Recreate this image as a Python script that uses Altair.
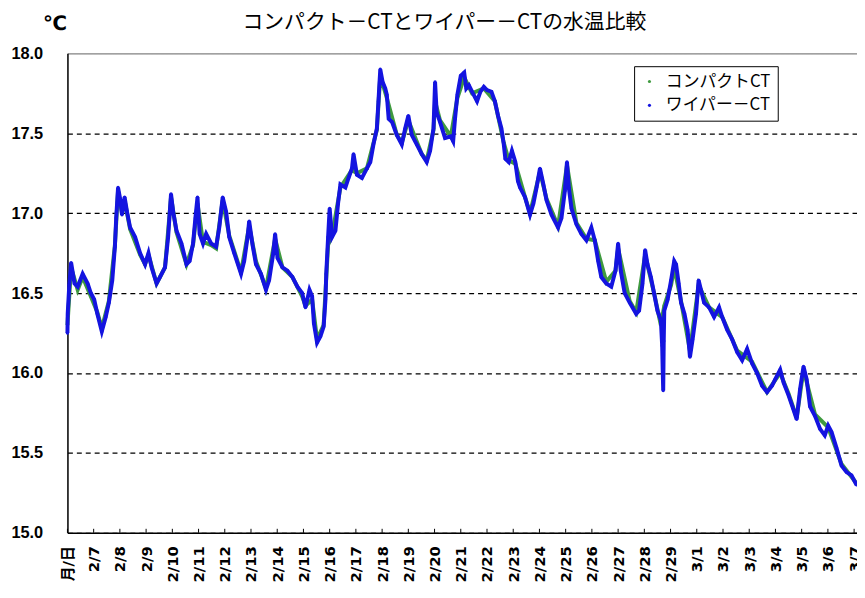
import json
import altair as alt
import pandas as pd

# ---- data (day index: 0 = "月/日", 1 = 2/7 ... 30 = 3/7) ----
wiper_day = [
    0.00, 0.01, 0.07, 0.14, 0.27, 0.39, 0.58, 0.77, 0.89, 1.02, 1.14, 1.31, 1.46, 1.58, 1.71, 1.81,
    1.86, 1.93, 2.02, 2.08, 2.18, 2.27, 2.39, 2.58, 2.77, 2.96, 3.09, 3.21, 3.40, 3.53, 3.72, 3.84,
    3.95, 4.03, 4.16, 4.35, 4.54, 4.66, 4.79, 4.88, 4.96, 5.04, 5.17, 5.29, 5.48, 5.67, 5.79, 5.92,
    6.05, 6.17, 6.36, 6.62, 6.74, 6.87, 6.93, 7.06, 7.19, 7.38, 7.57, 7.69, 7.85, 7.92, 8.01, 8.20,
    8.39, 8.58, 8.77, 8.95, 9.08, 9.23, 9.33, 9.40, 9.52, 9.65, 9.77, 9.84, 9.87, 9.94, 10.00, 10.09,
    10.22, 10.32, 10.41, 10.60, 10.72, 10.85, 10.91, 11.04, 11.23, 11.42, 11.55, 11.67, 11.80, 11.86,
    11.93, 12.02, 12.12, 12.18, 12.25, 12.38, 12.56, 12.75, 12.88, 13.00, 13.13, 13.32, 13.51, 13.70,
    13.83, 13.96, 14.02, 14.08, 14.21, 14.40, 14.62, 14.71, 14.78, 14.87, 15.00, 15.13, 15.21, 15.31,
    15.43, 15.62, 15.75, 15.88, 16.00, 16.17, 16.30, 16.42, 16.55, 16.64, 16.70, 16.83, 16.95, 17.08,
    17.18, 17.26, 17.45, 17.64, 17.77, 17.89, 18.02, 18.15, 18.27, 18.46, 18.71, 18.84, 18.97, 19.05,
    19.12, 19.22, 19.41, 19.60, 19.79, 19.98, 20.11, 20.24, 20.36, 20.55, 20.74, 20.90, 21.00, 21.10,
    21.25, 21.44, 21.69, 21.80, 21.93, 22.03, 22.12, 22.25, 22.37, 22.50, 22.63, 22.68, 22.70, 22.72,
    22.74, 22.76, 22.89, 23.02, 23.14, 23.21, 23.31, 23.40, 23.53, 23.65, 23.74, 23.84, 23.97, 24.07,
    24.16, 24.28, 24.47, 24.66, 24.85, 24.97, 25.16, 25.35, 25.54, 25.73, 25.92, 26.11, 26.30, 26.49,
    26.68, 26.87, 26.99, 27.18, 27.31, 27.50, 27.69, 27.81, 27.94, 28.07, 28.19, 28.32, 28.51, 28.70,
    28.88, 29.01, 29.14, 29.33, 29.52, 29.71, 29.90, 30.09,
]
wiper_temp = [
    16.25, 16.37, 16.55, 16.69, 16.56, 16.54, 16.62, 16.56, 16.50, 16.46, 16.37, 16.26, 16.35, 16.44, 16.58, 16.79,
    16.97, 17.16, 17.08, 16.99, 17.10, 17.01, 16.91, 16.85, 16.75, 16.68, 16.75, 16.66, 16.56, 16.60, 16.66, 16.85,
    17.12, 17.01, 16.89, 16.81, 16.68, 16.70, 16.81, 16.97, 17.10, 16.87, 16.81, 16.87, 16.81, 16.79, 16.91, 17.10,
    17.01, 16.85, 16.75, 16.62, 16.70, 16.85, 16.95, 16.80, 16.68, 16.62, 16.52, 16.58, 16.75, 16.87, 16.72, 16.66,
    16.64, 16.60, 16.54, 16.50, 16.41, 16.52, 16.48, 16.31, 16.19, 16.23, 16.29, 16.46, 16.62, 16.85, 17.03, 16.85,
    16.89, 17.06, 17.18, 17.16, 17.22, 17.28, 17.37, 17.24, 17.22, 17.28, 17.32, 17.43, 17.53, 17.70,
    17.90, 17.82, 17.78, 17.74, 17.59, 17.57, 17.49, 17.43, 17.53, 17.61, 17.49, 17.43, 17.37, 17.32,
    17.39, 17.53, 17.82, 17.63, 17.57, 17.47, 17.48, 17.45, 17.59, 17.74, 17.86, 17.88, 17.78, 17.80,
    17.76, 17.70, 17.76, 17.79, 17.77, 17.76, 17.70, 17.61, 17.53, 17.43, 17.34, 17.32, 17.39, 17.32,
    17.20, 17.16, 17.10, 16.99, 17.06, 17.16, 17.28, 17.18, 17.08, 16.99, 16.91, 16.97, 17.14, 17.32,
    17.16, 17.03, 16.93, 16.87, 16.83, 16.91, 16.83, 16.70, 16.60, 16.56, 16.54, 16.64, 16.81, 16.64,
    16.50, 16.44, 16.37, 16.39, 16.56, 16.77, 16.68, 16.60, 16.50, 16.39, 16.33, 16.17, 16.02, 15.89,
    16.20, 16.39, 16.46, 16.58, 16.70, 16.68, 16.56, 16.44, 16.37, 16.27, 16.10, 16.21, 16.37, 16.58,
    16.52, 16.44, 16.41, 16.35, 16.41, 16.35, 16.27, 16.21, 16.13, 16.08, 16.15, 16.06, 16.00, 15.92,
    15.88, 15.92, 15.96, 16.02, 15.94, 15.86, 15.77, 15.71, 15.90, 16.04, 15.96, 15.79, 15.73, 15.65,
    15.61, 15.67, 15.63, 15.53, 15.42, 15.38, 15.36, 15.30,
]
compact_day = [
    0.00, 0.14, 0.39, 0.58, 0.89, 1.14, 1.31, 1.58, 1.81, 1.93, 2.08, 2.18, 2.39, 2.77, 2.96, 3.09,
    3.40, 3.72, 3.95, 4.16, 4.54, 4.79, 4.96, 5.17, 5.48, 5.67, 5.92, 6.17, 6.62, 6.93, 7.19, 7.57,
    7.92, 8.20, 8.58, 8.95, 9.08, 9.33, 9.52, 9.77, 9.94, 10.09, 10.41, 10.85, 11.04, 11.42, 11.80,
    11.93, 12.18, 12.56, 12.75, 13.00, 13.51, 13.70, 13.96, 14.02, 14.21, 14.62, 14.87, 15.13, 15.43,
    15.88, 16.30, 16.64, 16.83, 17.08, 17.45, 17.64, 18.02, 18.27, 18.71, 19.05, 19.41, 19.79, 20.11,
    20.55, 20.90, 21.00, 21.44, 21.69, 22.03, 22.37, 22.63, 22.76, 23.02, 23.14, 23.40, 23.74, 24.07,
    24.47, 24.97, 25.54, 26.11, 26.68, 27.18, 27.50, 27.81, 28.07, 28.51, 29.01, 29.52, 30.09,
]
compact_temp = [
    16.30, 16.66, 16.52, 16.60, 16.48, 16.38, 16.28, 16.45, 16.80, 17.14, 17.00, 17.08, 16.90, 16.74, 16.68, 16.74,
    16.56, 16.66, 17.10, 16.88, 16.68, 16.80, 17.06, 16.82, 16.80, 16.78, 17.08, 16.86, 16.63, 16.92, 16.70, 16.53,
    16.84, 16.66, 16.60, 16.48, 16.42, 16.46, 16.21, 16.30, 16.80, 16.86, 17.16, 17.27, 17.25, 17.28, 17.52,
    17.86, 17.72, 17.49, 17.44, 17.58, 17.37, 17.33, 17.52, 17.70, 17.58, 17.48, 17.72, 17.85, 17.75,
    17.78, 17.70, 17.44, 17.33, 17.31, 17.10, 17.00, 17.26, 17.09, 16.92, 17.30, 16.94, 16.84, 16.83,
    16.57, 16.64, 16.78, 16.45, 16.38, 16.74, 16.50, 16.30, 16.42, 16.55, 16.66, 16.45, 16.14, 16.55,
    16.41, 16.35, 16.14, 16.07, 15.88, 16.00, 15.87, 15.72, 16.02, 15.74, 15.66, 15.43, 15.31,
]
tick_labels = ["月/日"] + ["2/%d" % d for d in range(7, 30)] + ["3/%d" % d for d in range(1, 8)]
series_names = ["コンパクトCT", "ワイパー－CT"]
series_colors = ["#3f9a3f", "#1414e0"]
y_ticks = [15.0, 15.5, 16.0, 16.5, 17.0, 17.5, 18.0]
title_text = "コンパクト－CTとワイパー－CTの水温比較"

compact = pd.DataFrame({"day": compact_day, "temp": compact_temp, "series": series_names[0]})
wiper = pd.DataFrame({"day": wiper_day, "temp": wiper_temp, "series": series_names[1]})
ticks_df = pd.DataFrame({"day": list(range(len(tick_labels))), "temp": 15.0, "y1": 15.025})

FONT = "Liberation Sans, Noto Sans CJK JP, sans-serif"
XFONT = "DejaVu Sans, Noto Sans CJK JP, sans-serif"
JFONT = "Noto Sans CJK JP, sans-serif"

label_expr = json.dumps(tick_labels, ensure_ascii=False) + "[round(datum.value)]"

x_scale = alt.Scale(domain=[0, 30.11], nice=False, zero=False)
y_scale = alt.Scale(domain=[15.0, 18.0], nice=False, zero=False)
color_scale = alt.Scale(domain=series_names, range=series_colors)

x_axis = alt.Axis(
    values=list(range(len(tick_labels))), labelExpr=label_expr, labelAngle=270,
    labelFont=XFONT, labelFontSize=15, labelFontWeight="bold", labelColor="black",
    labelPadding=13, tickSize=0, grid=False, domainColor="black", domainWidth=1.5,
    title=None, labelOverlap=False, labelFlush=False, labelBound=False,
)
y_axis = alt.Axis(
    values=y_ticks, format=".1f", labelFont=FONT, labelFontSize=16.5, labelFontWeight="bold",
    labelColor="black", labelPadding=25, tickSize=0, domainColor="black", domainWidth=1.5,
    grid=True, labelOverlap=False,
    gridDash={"condition": {"test": "datum.value >= 17.99", "value": [1, 0]}, "value": [5, 4]},
    gridColor={"condition": {"test": "datum.value >= 17.99", "value": "#8a8a8a"}, "value": "black"},
    gridWidth=1.2,
    title="℃", titleAngle=0, titleX=-13, titleY=-30, titleFont="DejaVu Sans",
    titleFontSize=20, titleFontWeight="bold", titleAlign="center", titleBaseline="middle",
    titleColor="black",
)
x_enc = alt.X("day:Q", scale=x_scale, axis=x_axis)
y_enc = alt.Y("temp:Q", scale=y_scale, axis=y_axis)

legend = alt.Legend(
    title=None, orient="none", legendX=572, legendY=13, fillColor="white", strokeColor="black",
    padding=7, labelFont=JFONT, labelFontSize=17, labelColor="black", symbolType="circle",
    symbolSize=10, rowPadding=6, labelLimit=300, symbolOffset=0, labelOffset=8,
)

green_line = alt.Chart(compact).mark_line(color=series_colors[0], strokeWidth=4).encode(
    x=x_enc, y=y_enc, order="day:Q")
green_pts = alt.Chart(compact).mark_point(filled=True, size=10, opacity=1).encode(
    x=x_enc, y=y_enc, color=alt.Color("series:N", scale=color_scale, legend=legend))
blue_line = alt.Chart(wiper).mark_line(color=series_colors[1], strokeWidth=4).encode(
    x=x_enc, y=y_enc, order="day:Q")
blue_pts = alt.Chart(wiper).mark_point(filled=True, size=12, opacity=1).encode(
    x=x_enc, y=y_enc, color=alt.Color("series:N", scale=color_scale, legend=legend))
tick_rules = alt.Chart(ticks_df).mark_rule(color="black", strokeWidth=1).encode(
    x=x_enc, y=y_enc, y2="y1:Q")

chart = alt.layer(green_line, green_pts, blue_line, blue_pts, tick_rules).properties(
    width=797, height=484,
    title=alt.TitleParams(text=title_text, font=JFONT, fontSize=21, fontWeight="normal",
                          color="black", anchor="middle", dx=-18, offset=-19),
    autosize=alt.AutoSizeParams(type="none"),
    padding={"left": 60, "top": 43, "right": 0, "bottom": 55},
).configure_view(stroke=None).configure(background="white")

chart.save("out.html", embed_options={"renderer": "svg", "actions": False})
